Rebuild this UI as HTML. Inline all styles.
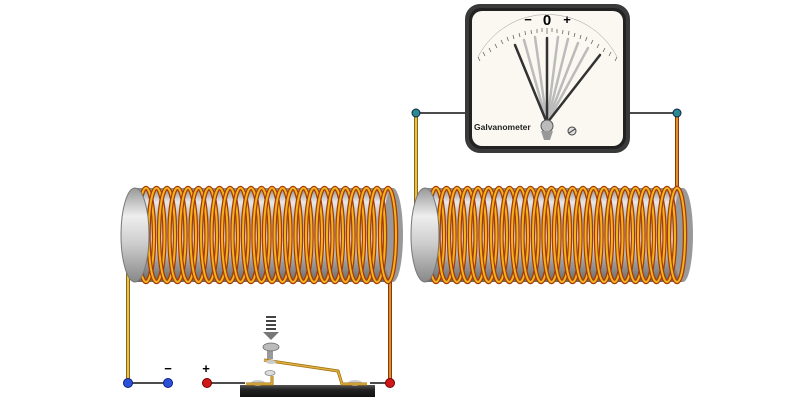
<!DOCTYPE html>
<html><head><meta charset="utf-8"><style>body{margin:0;background:#fff}svg{display:block}</style></head><body>
<svg width="800" height="400" viewBox="0 0 800 400" xmlns="http://www.w3.org/2000/svg" font-family="Liberation Sans, sans-serif">
<defs>
<linearGradient id="cyl" x1="0" y1="0" x2="0" y2="1">
<stop offset="0" stop-color="#8a8a8a"/><stop offset="0.15" stop-color="#e8e8e8"/><stop offset="0.35" stop-color="#b0b0b0"/><stop offset="0.55" stop-color="#f0f0f0"/><stop offset="0.8" stop-color="#9a9a9a"/><stop offset="1" stop-color="#6a6a6a"/>
</linearGradient>
<linearGradient id="endg" x1="0" y1="0" x2="0" y2="1">
<stop offset="0" stop-color="#999"/><stop offset="0.3" stop-color="#eee"/><stop offset="0.6" stop-color="#ccc"/><stop offset="1" stop-color="#888"/>
</linearGradient>
<linearGradient id="base" x1="0" y1="0" x2="0" y2="1"><stop offset="0" stop-color="#555"/><stop offset="0.4" stop-color="#222"/><stop offset="1" stop-color="#111"/></linearGradient>
<g id="turn"><ellipse cx="0" cy="0" rx="8" ry="47" fill="none" stroke="#a83a08" stroke-width="4.5"/><ellipse cx="0" cy="0" rx="8" ry="47" fill="none" stroke="#f2b41c" stroke-width="2"/></g>
</defs>

<g stroke-linecap="round">
<line x1="128" y1="270" x2="128" y2="383" stroke="#8a6a10" stroke-width="4"/><line x1="128" y1="270" x2="128" y2="383" stroke="#e8c050" stroke-width="2"/>
<line x1="390" y1="270" x2="390" y2="383" stroke="#8a3a08" stroke-width="4"/><line x1="390" y1="270" x2="390" y2="383" stroke="#e09030" stroke-width="2"/>
<line x1="416" y1="113" x2="416" y2="205" stroke="#8a6a10" stroke-width="4"/><line x1="416" y1="113" x2="416" y2="205" stroke="#e8c050" stroke-width="2"/>
<line x1="677" y1="113" x2="677" y2="205" stroke="#8a3a08" stroke-width="4"/><line x1="677" y1="113" x2="677" y2="205" stroke="#e09030" stroke-width="2"/>
</g>
<g stroke="#111" stroke-width="1.5">
<line x1="128" y1="383" x2="168" y2="383"/><line x1="207" y1="383" x2="245" y2="383"/><line x1="370" y1="383" x2="390" y2="383"/>
<line x1="416" y1="113" x2="466" y2="113"/><line x1="628" y1="113" x2="677" y2="113"/>
</g>

<rect x="135" y="188" width="258" height="94" fill="url(#cyl)"/>
<ellipse cx="393" cy="235" rx="10" ry="47" fill="#999"/>
<g transform="translate(0,235)">
<use href="#turn" x="146"/><use href="#turn" x="156.5"/><use href="#turn" x="167"/><use href="#turn" x="177.5"/><use href="#turn" x="188"/><use href="#turn" x="198.5"/><use href="#turn" x="209"/><use href="#turn" x="219.5"/><use href="#turn" x="230"/><use href="#turn" x="240.5"/><use href="#turn" x="251"/><use href="#turn" x="261.5"/><use href="#turn" x="272"/><use href="#turn" x="282.5"/><use href="#turn" x="293"/><use href="#turn" x="303.5"/><use href="#turn" x="314"/><use href="#turn" x="324.5"/><use href="#turn" x="335"/><use href="#turn" x="345.5"/><use href="#turn" x="356"/><use href="#turn" x="366.5"/><use href="#turn" x="377"/><use href="#turn" x="388"/>
</g>
<ellipse cx="135" cy="235" rx="14" ry="47" fill="url(#endg)" stroke="#777" stroke-width="1"/>

<rect x="425" y="188" width="258" height="94" fill="url(#cyl)"/>
<ellipse cx="683" cy="235" rx="10" ry="47" fill="#999"/>
<g transform="translate(0,235)">
<use href="#turn" x="436"/><use href="#turn" x="446.5"/><use href="#turn" x="457"/><use href="#turn" x="467.5"/><use href="#turn" x="478"/><use href="#turn" x="488.5"/><use href="#turn" x="499"/><use href="#turn" x="509.5"/><use href="#turn" x="520"/><use href="#turn" x="530.5"/><use href="#turn" x="541"/><use href="#turn" x="551.5"/><use href="#turn" x="562"/><use href="#turn" x="572.5"/><use href="#turn" x="583"/><use href="#turn" x="593.5"/><use href="#turn" x="604"/><use href="#turn" x="614.5"/><use href="#turn" x="625"/><use href="#turn" x="635.5"/><use href="#turn" x="646"/><use href="#turn" x="656.5"/><use href="#turn" x="667"/><use href="#turn" x="677"/>
</g>
<ellipse cx="425" cy="235" rx="14" ry="47" fill="url(#endg)" stroke="#777" stroke-width="1"/>

<circle cx="128" cy="383" r="4.5" fill="#2a50d8" stroke="#102080"/>
<circle cx="168" cy="383" r="4.5" fill="#2a50d8" stroke="#102080"/>
<circle cx="207" cy="383" r="4.5" fill="#d01818" stroke="#700"/>
<circle cx="390" cy="383" r="4.5" fill="#d01818" stroke="#700"/>
<circle cx="416" cy="113" r="4" fill="#2a8a90" stroke="#124"/>
<circle cx="677" cy="113" r="4" fill="#2a8a90" stroke="#124"/>
<text x="168" y="373" font-size="13" font-weight="bold" text-anchor="middle">−</text>
<text x="206" y="373" font-size="13" font-weight="bold" text-anchor="middle">+</text>

<rect x="240" y="385" width="135" height="12" fill="url(#base)"/>
<ellipse cx="258" cy="383" rx="7" ry="3" fill="#ccc"/><ellipse cx="355" cy="383" rx="7" ry="3" fill="#ccc"/>
<path d="M246 384 L272 384 L272 376" fill="none" stroke="#a07010" stroke-width="3"/>
<path d="M246 384 L272 384 L272 376" fill="none" stroke="#e0b040" stroke-width="1.5"/>
<ellipse cx="270" cy="373" rx="5" ry="2.5" fill="#ddd" stroke="#888" stroke-width="0.8"/>
<path d="M264 360 L338 371 L342 384 L367 384" fill="none" stroke="#a07010" stroke-width="3"/>
<path d="M264 360 L338 371 L342 384 L367 384" fill="none" stroke="#e0b040" stroke-width="1.5"/>
<rect x="267" y="349" width="6" height="10" fill="#999"/>
<ellipse cx="271" cy="347" rx="8" ry="4" fill="#bbb" stroke="#666" stroke-width="0.8"/>
<ellipse cx="271" cy="362" rx="5" ry="2" fill="#ccc"/>
<g fill="#444"><rect x="266" y="316" width="10" height="2"/><rect x="266" y="320" width="10" height="2"/><rect x="266" y="324" width="10" height="2"/><rect x="266" y="328" width="10" height="2"/><path d="M263 332 L279 332 L271 340 Z" fill="#777"/></g>

<rect x="465" y="4" width="165" height="149" rx="15" fill="#3a3a3a"/>
<rect x="469" y="8" width="157" height="141" rx="12" fill="#222"/>
<rect x="472" y="11" width="151" height="135" rx="10" fill="#fbf8f2"/>
<text x="528" y="24" font-size="13" font-weight="bold" text-anchor="middle">−</text>
<text x="547" y="25" font-size="15" font-weight="bold" text-anchor="middle">0</text>
<text x="567" y="24" font-size="13" font-weight="bold" text-anchor="middle">+</text>
<path d="M478 57 A78 78 0 0 1 617 57" fill="none" stroke="#999" stroke-width="0.5"/>
<g stroke="#666" stroke-width="0.8">
<path d="M478 57 l2 4 M483 52 l2 4 M489 48 l2 4 M495 44 l2 4 M501 40 l2 4 M507 37 l1.5 4 M513 35 l1 4 M519 33 l1 4 M525 31 l.5 4 M531 30 l.5 4 M537 29 l0 4 M542 28 l0 4 M547 28 l0 6 M552 28 l0 4 M557 29 l0 4 M563 30 l-.5 4 M569 31 l-.5 4 M575 33 l-1 4 M581 35 l-1 4 M587 37 l-1.5 4 M593 40 l-2 4 M599 44 l-2 4 M605 48 l-2 4 M611 52 l-2 4 M617 57 l-2 4"/>
</g>
<g stroke="#bbb" stroke-width="2.5" stroke-linecap="round">
<line x1="547" y1="123" x2="524" y2="40"/><line x1="547" y1="123" x2="535" y2="37"/><line x1="547" y1="123" x2="558" y2="37"/><line x1="547" y1="123" x2="568" y2="39"/><line x1="547" y1="123" x2="578" y2="43"/><line x1="547" y1="123" x2="588" y2="48"/>
</g>
<g stroke="#333" stroke-width="2.5" stroke-linecap="round">
<line x1="547" y1="123" x2="515" y2="45"/><line x1="547" y1="123" x2="547" y2="38"/><line x1="547" y1="123" x2="600" y2="55"/>
</g>
<circle cx="547" cy="126" r="6" fill="#bbb" stroke="#555"/>
<path d="M541 131 L553 131 L550 140 L544 140Z" fill="#999"/>
<circle cx="572" cy="131" r="4" fill="#ddd" stroke="#444"/><line x1="569" y1="133" x2="575" y2="129" stroke="#333"/>
<text x="474" y="130" font-size="8.5" font-weight="bold" fill="#222">Galvanometer</text>
</svg>
</body></html>
